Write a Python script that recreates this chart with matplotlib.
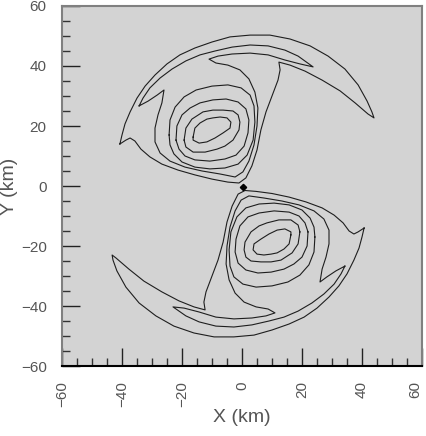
import numpy as np
import matplotlib
matplotlib.use("Agg")
import matplotlib.pyplot as plt

# contour lines, (x km, y km)
# upper vortex
up_l1 = [(-40.7, 14.0), (-40.0, 17.0), (-39.0, 20.7), (-37.3, 24.7), (-35.0, 29.3), (-32.3, 33.3),
         (-29.0, 37.0), (-25.0, 40.7), (-20.7, 43.7), (-15.7, 46.0), (-10.0, 48.0), (-4.0, 49.7),
         (2.7, 50.3), (9.3, 50.3), (16.0, 49.0), (22.7, 46.7), (28.7, 43.3), (34.3, 39.0),
         (38.7, 33.7), (41.7, 28.3), (43.3, 24.7), (44.0, 22.7), (42.0, 24.0), (37.7, 27.7),
         (32.7, 31.7), (26.7, 35.3), (21.0, 38.3), (16.0, 40.3), (12.3, 41.3), (12.7, 38.7),
         (12.0, 35.3), (10.0, 30.0), (8.0, 24.7), (6.3, 18.7), (5.0, 12.0), (3.3, 6.7),
         (1.3, 2.7), (-1.0, 1.0), (-4.7, 1.3), (-10.0, 2.3), (-15.7, 3.7), (-21.3, 5.3),
         (-26.7, 7.3), (-30.7, 9.7), (-33.7, 12.3), (-35.7, 15.0), (-37.3, 16.0), (-38.7, 15.3),
         (-40.7, 14.0)]
up_l2 = [(-34.3, 26.7), (-33.0, 29.3), (-30.7, 32.7), (-27.3, 36.0), (-23.3, 39.0), (-18.7, 41.7),
         (-14.0, 43.7), (-9.0, 45.0), (-3.3, 46.3), (2.7, 47.0), (8.7, 46.7), (14.3, 45.3),
         (18.7, 43.3), (23.7, 39.7), (19.3, 40.7), (14.3, 42.0), (8.7, 43.7), (2.7, 44.3),
         (-3.3, 44.0), (-8.0, 43.3), (-11.0, 42.3), (-8.7, 41.0), (-4.7, 40.3), (-0.7, 38.7),
         (2.3, 35.7), (4.3, 31.3), (5.3, 26.0), (5.0, 20.0), (4.0, 13.7), (2.3, 8.3),
         (0.3, 4.7), (-2.3, 3.0), (-7.3, 4.0), (-13.3, 5.0), (-19.0, 6.3), (-24.0, 8.3),
         (-27.3, 11.0), (-29.0, 14.7), (-29.0, 19.3), (-28.0, 23.7), (-26.7, 27.7), (-26.0, 32.0),
         (-28.3, 30.3), (-31.3, 28.3), (-34.3, 26.7)]
up_c3 = [(-24.3, 17.0), (-24.0, 22.0), (-22.3, 26.3), (-19.3, 29.7), (-15.3, 32.0), (-10.0, 33.3),
         (-4.7, 33.7), (-0.3, 32.7), (2.7, 30.3), (4.0, 26.7), (4.3, 21.3), (3.7, 15.3),
         (1.7, 10.3), (-1.3, 7.3), (-5.7, 6.0), (-10.7, 5.7), (-15.7, 6.3), (-20.0, 8.0),
         (-22.7, 10.7), (-24.0, 13.7), (-24.3, 17.0)]
up_c4 = [(-22.0, 15.3), (-21.7, 20.0), (-20.0, 23.7), (-17.3, 26.0), (-14.0, 27.7), (-9.7, 28.7),
         (-5.3, 29.0), (-1.3, 28.0), (1.3, 25.7), (2.3, 22.0), (2.0, 17.7), (0.7, 13.3),
         (-2.0, 10.3), (-5.7, 9.0), (-10.7, 8.3), (-15.7, 8.7), (-19.0, 10.0), (-21.0, 12.3),
         (-22.0, 15.3)]
up_c5 = [(-19.3, 15.3), (-18.7, 19.3), (-16.7, 22.3), (-13.0, 24.7), (-9.7, 25.3), (-6.3, 25.3),
         (-3.0, 25.0), (-1.3, 23.7), (-0.7, 21.3), (-1.0, 18.7), (-3.0, 15.3), (-5.7, 13.3),
         (-8.3, 12.3), (-12.3, 11.3), (-16.3, 11.3), (-18.7, 13.0), (-19.3, 15.3)]
up_c6 = [(-16.3, 16.3), (-15.7, 19.3), (-14.0, 21.0), (-11.7, 22.3), (-9.7, 22.7), (-7.3, 23.0),
         (-5.0, 22.7), (-3.7, 21.3), (-4.0, 19.3), (-6.3, 17.7), (-9.0, 16.0), (-11.7, 14.7),
         (-14.3, 14.3), (-16.3, 15.3), (-16.3, 16.3)]

# lower vortex
lo_l1 = [(40.7, -14.0), (40.0, -17.0), (39.0, -20.7), (37.3, -24.7), (35.0, -29.3), (32.3, -33.3),
         (29.0, -37.0), (25.0, -40.7), (20.7, -43.7), (15.7, -46.0), (10.0, -48.0), (4.0, -49.7),
         (-2.7, -50.3), (-9.3, -50.3), (-16.0, -49.0), (-22.7, -46.7), (-28.7, -43.3), (-34.3, -39.0),
         (-38.7, -33.7), (-41.7, -28.3), (-43.0, -24.7), (-43.3, -23.0), (-42.0, -24.0), (-37.7, -27.7),
         (-32.7, -31.7), (-26.7, -35.3), (-21.0, -38.3), (-16.0, -40.3), (-12.3, -41.3), (-12.7, -38.7),
         (-12.0, -35.3), (-10.0, -30.0), (-8.0, -24.7), (-6.3, -18.7), (-5.0, -12.0), (-3.3, -6.7),
         (-1.3, -2.7), (1.0, -1.5), (4.7, -1.8), (10.0, -2.5), (15.7, -3.7), (21.3, -5.3),
         (26.7, -7.3), (30.7, -9.7), (33.7, -12.3), (35.7, -15.0), (37.3, -16.0), (38.7, -15.3),
         (40.7, -14.0)]
lo_l2 = [(34.3, -26.7), (33.0, -29.3), (30.7, -32.7), (27.3, -36.0), (23.3, -39.0), (18.7, -41.7),
         (14.0, -43.7), (9.0, -45.0), (3.3, -46.3), (-2.7, -47.0), (-8.7, -46.7), (-14.3, -45.3),
         (-18.7, -43.3), (-23.0, -40.3), (-19.3, -40.7), (-14.3, -42.0), (-8.7, -43.7), (-2.7, -44.3),
         (3.3, -44.0), (8.0, -43.3), (11.0, -42.3), (8.7, -41.0), (4.7, -40.3), (0.7, -38.7),
         (-2.3, -35.7), (-4.3, -31.3), (-5.3, -26.0), (-5.0, -20.0), (-4.0, -13.7), (-2.3, -8.3),
         (-0.3, -4.7), (2.3, -3.3), (7.3, -4.0), (13.3, -5.0), (19.0, -6.3), (24.0, -8.3),
         (27.3, -11.0), (29.0, -14.7), (29.0, -19.3), (28.0, -23.7), (26.7, -27.7), (26.0, -32.0),
         (28.3, -30.3), (31.3, -28.3), (34.3, -26.7)]
lo_c3 = [(24.3, -17.0), (24.0, -22.0), (22.3, -26.3), (19.3, -29.7), (15.3, -32.0), (10.0, -33.3),
         (4.7, -33.7), (0.3, -32.7), (-2.7, -30.3), (-4.0, -26.7), (-4.3, -21.3), (-3.7, -15.3),
         (-1.7, -10.3), (1.3, -7.3), (5.7, -6.0), (10.7, -5.7), (15.7, -6.3), (20.0, -8.0),
         (22.7, -10.7), (24.0, -13.7), (24.3, -17.0)]
lo_c4 = [(22.0, -15.3), (21.7, -20.0), (20.0, -23.7), (17.3, -26.0), (14.0, -27.7), (9.7, -28.7),
         (5.3, -29.0), (1.3, -28.0), (-1.3, -25.7), (-2.3, -22.0), (-2.0, -17.7), (-0.7, -13.3),
         (2.0, -10.3), (5.7, -9.0), (10.7, -8.3), (15.7, -8.7), (19.0, -10.0), (21.0, -12.3),
         (22.0, -15.3)]
lo_c5 = [(19.3, -15.3), (18.7, -19.3), (16.7, -22.3), (13.0, -24.7), (9.7, -25.3), (6.3, -25.3),
         (3.0, -25.0), (1.3, -23.7), (0.7, -21.3), (1.0, -18.7), (3.0, -15.3), (5.7, -13.3),
         (8.3, -12.3), (12.3, -11.3), (16.3, -11.3), (18.7, -13.0), (19.3, -15.3)]
lo_c6 = [(16.3, -16.3), (15.7, -19.3), (14.0, -21.0), (11.7, -22.3), (9.7, -22.7), (7.3, -23.0),
         (5.0, -22.7), (3.7, -21.3), (4.0, -19.3), (6.3, -17.7), (9.0, -16.0), (11.7, -14.7),
         (14.3, -14.3), (16.3, -15.3), (16.3, -16.3)]

centre_dot = (0.2, -0.2)

major_ticks = [-60, -40, -20, 0, 20, 40, 60]
minor_ticks = list(range(-55, 60, 5))
tick_labels = ['\u221260', '\u221240', '\u221220', '0', '20', '40', '60']

contours = [up_l1, up_l2, up_c3, up_c4, up_c5, up_c6,
            lo_l1, lo_l2, lo_c3, lo_c4, lo_c5, lo_c6]

plt.rcParams['font.family'] = ['Liberation Sans', 'DejaVu Sans']
txt_col = '#555555'

fig = plt.figure(figsize=(4.27, 4.36), dpi=100)
ax = fig.add_axes([62 / 427, 70 / 436, 360 / 427, 360 / 436])
ax.set_facecolor('#d3d3d3')

for c in contours:
    pts = np.array(c)
    ax.plot(pts[:, 0], pts[:, 1], color='#1e1e1e', lw=0.8, solid_joinstyle='round')

ax.plot([centre_dot[0]], [centre_dot[1]], marker='D', ms=3.2, color='black')

ax.set_xlim(-60, 60)
ax.set_ylim(-60, 60)

ax.set_xticks(major_ticks)
ax.set_xticklabels(tick_labels)
ax.set_xticks(minor_ticks, minor=True)
ax.set_yticks(major_ticks)
ax.set_yticklabels(tick_labels)
ax.set_yticks(minor_ticks, minor=True)
ax.tick_params(which='major', direction='in', length=13, width=1.0, color='#222222',
               top=False, right=False, labelsize=11, labelcolor=txt_col, pad=11)
ax.tick_params(which='minor', direction='in', length=6, width=1.0, color='#333333',
               top=False, right=False)
ax.tick_params(axis='x', which='major', labelrotation=90)
# last x label sits against the figure edge
ax.get_xticklabels()[-1].set_horizontalalignment('right')

for s in ['top', 'right', 'left']:
    ax.spines[s].set_color('#808080')
    ax.spines[s].set_linewidth(1.5)
ax.spines['bottom'].set_color('black')
ax.spines['bottom'].set_linewidth(1.5)

fig.text(242 / 427, 1 - 417 / 436, 'X (km)', fontsize=14, color=txt_col, ha='center', va='center')
fig.text(10 / 427, 1 - 186 / 436, 'Y (km)', fontsize=14, color=txt_col, rotation=90,
         ha='center', va='center')

fig.savefig('out.png', dpi=100, facecolor='white')
